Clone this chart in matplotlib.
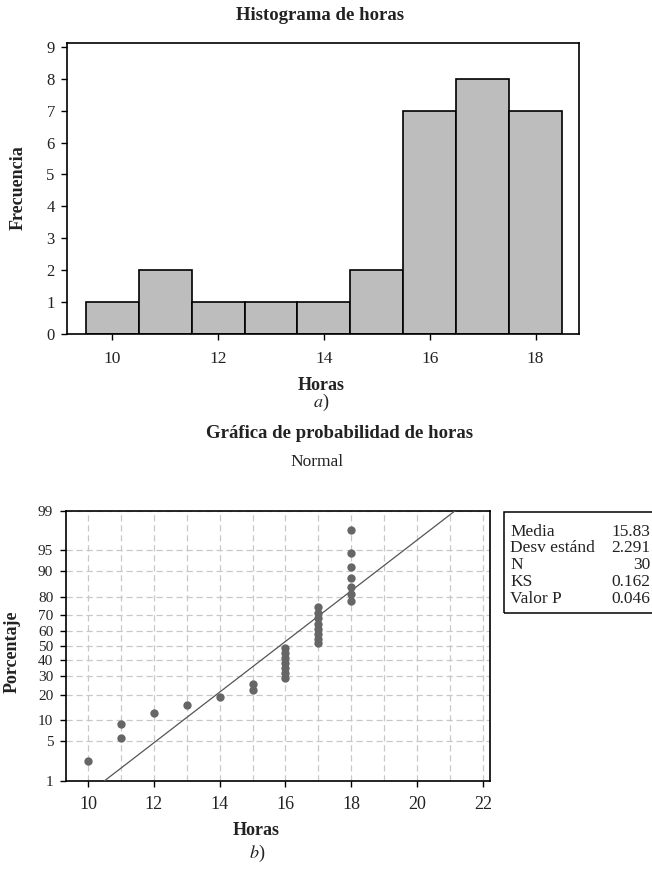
import matplotlib
matplotlib.use("Agg")
import matplotlib.pyplot as plt
from matplotlib.patches import Rectangle
import numpy as np
from statistics import NormalDist

# datos
horas = [10, 11, 12, 13, 14, 15, 16, 17, 18]
frecuencia = [1, 2, 1, 1, 1, 2, 7, 8, 7]
pct_ticks = [1, 5, 10, 20, 30, 40, 50, 60, 70, 80, 90, 95, 99]
stat_names = ["Media", "Desv estánd", "N", "KS", "Valor P"]
ks_val = "0.162"
p_val = "0.046"

plt.rcParams['font.family'] = ['Liberation Serif', 'DejaVu Serif']
plt.rcParams['mathtext.fontset'] = 'stix'
txt = '#222222'

W, H = 652, 871
fig = plt.figure(figsize=(W / 100, H / 100), dpi=100)


def fx(px):
    return px / W


def fy(py):
    return 1 - py / H


# ---------- a) histograma ----------
ax1 = fig.add_axes([fx(67.3), fy(334), fx(579 - 67.3), (334 - 42.7) / H])
ax1.bar(horas, frecuencia, width=1, color='#bdbdbd', edgecolor='black', linewidth=1.2)
ax1.set_xlim(9.15, 18.82)
ax1.set_ylim(0, 9.13)
ax1.set_xticks([10, 12, 14, 16, 18])
ax1.set_yticks(range(10))
ax1.tick_params(axis='both', direction='out', length=4, width=1, colors='black', labelcolor=txt)
ax1.tick_params(axis='x', labelsize=12.5, pad=8)
ax1.tick_params(axis='y', labelsize=12, pad=5)
for s in ax1.spines.values():
    s.set_linewidth(1.2)

fig.text(fx(320), fy(15), "Histograma de horas", ha='center', va='center',
         fontsize=13.5, fontweight='bold', color=txt)
fig.text(fx(18), fy(188), "Frecuencia", rotation=90, ha='center', va='center',
         fontsize=13, fontweight='bold', color=txt)
fig.text(fx(321), fy(385), "Horas", ha='center', va='center',
         fontsize=13, fontweight='bold', color=txt)
fig.text(fx(321), fy(402), r"$\mathit{a}$)", ha='center', va='center',
         fontsize=13, color=txt)

# ---------- b) gráfica de probabilidad normal ----------
datos = np.repeat(horas, frecuencia)
n = len(datos)
rango = np.arange(1, n + 1)
pct = (rango - 0.3) / (n + 0.4) * 100
media = datos.mean()
desv = datos.std(ddof=1)

nd = NormalDist()
ppf = np.vectorize(nd.inv_cdf, otypes=[float])
cdf = np.vectorize(nd.cdf, otypes=[float])


def fwd(p):
    p = np.clip(np.asarray(p, dtype=float) / 100, 1e-9, 1 - 1e-9)
    return ppf(p)


def inv(z):
    return cdf(np.asarray(z, dtype=float)) * 100


ax2 = fig.add_axes([fx(65.7), fy(780.7), fx(490 - 65.7), (780.7 - 510.7) / H])
ax2.set_yscale('function', functions=(fwd, inv))
ax2.set_xlim(9.32, 22.22)
ax2.set_ylim(1, 99)

x_line = media + desv * np.array([nd.inv_cdf(0.005), nd.inv_cdf(0.995)])
ax2.plot(x_line, cdf((x_line - media) / desv) * 100, color='#555555', lw=0.9, zorder=3)
ax2.plot(datos, pct, 'o', color='#666666', markersize=6, markeredgewidth=0, zorder=4)

ax2.set_yticks(pct_ticks)
ax2.set_yticklabels([str(t) for t in pct_ticks])
ax2.yaxis.set_minor_locator(matplotlib.ticker.NullLocator())
ax2.set_xticks([10, 12, 14, 16, 18, 20, 22])
ax2.set_xticks(range(10, 23), minor=True)
ax2.tick_params(axis='x', which='minor', length=0)
ax2.tick_params(axis='both', which='major', direction='out', length=4, width=1,
                colors='black', labelcolor=txt)
ax2.tick_params(axis='x', labelsize=13, pad=7)
ax2.tick_params(axis='y', labelsize=11, pad=5)
ax2.grid(True, axis='x', which='both', color='#c8c8c8', linestyle=(0, (5, 3)), lw=0.9)
ax2.grid(True, axis='y', which='major', color='#c8c8c8', linestyle=(0, (5, 3)), lw=0.9)
ax2.set_axisbelow(True)
for s in ax2.spines.values():
    s.set_linewidth(1.2)

fig.text(fx(340), fy(433), "Gráfica de probabilidad de horas", ha='center', va='center',
         fontsize=13.5, fontweight='bold', color=txt)
fig.text(fx(317), fy(462), "Normal", ha='center', va='center', fontsize=12.5, color=txt)
fig.text(fx(12), fy(652), "Porcentaje", rotation=90, ha='center', va='center',
         fontsize=13, fontweight='bold', color=txt)
fig.text(fx(256), fy(830), "Horas", ha='center', va='center',
         fontsize=13, fontweight='bold', color=txt)
fig.text(fx(257), fy(853), r"$\mathit{b}$)", ha='center', va='center',
         fontsize=13, color=txt)

# cuadro de estadísticos
valores = [f"{media:.2f}", f"{desv:.3f}", str(n), ks_val, p_val]
fig.patches.append(Rectangle((fx(504.3), fy(613)), fx(170), (613 - 511.7) / H,
                             transform=fig.transFigure, fill=False,
                             edgecolor='black', lw=1.1))
for i, (nom, val) in enumerate(zip(stat_names, valores)):
    yy = fy(531.7 + i * 16.7)
    fig.text(fx(510), yy, nom, ha='left', va='center', fontsize=12.5, color=txt)
    fig.text(fx(650), yy, val, ha='right', va='center', fontsize=12.5, color=txt)

fig.savefig("out.png", dpi=100)
